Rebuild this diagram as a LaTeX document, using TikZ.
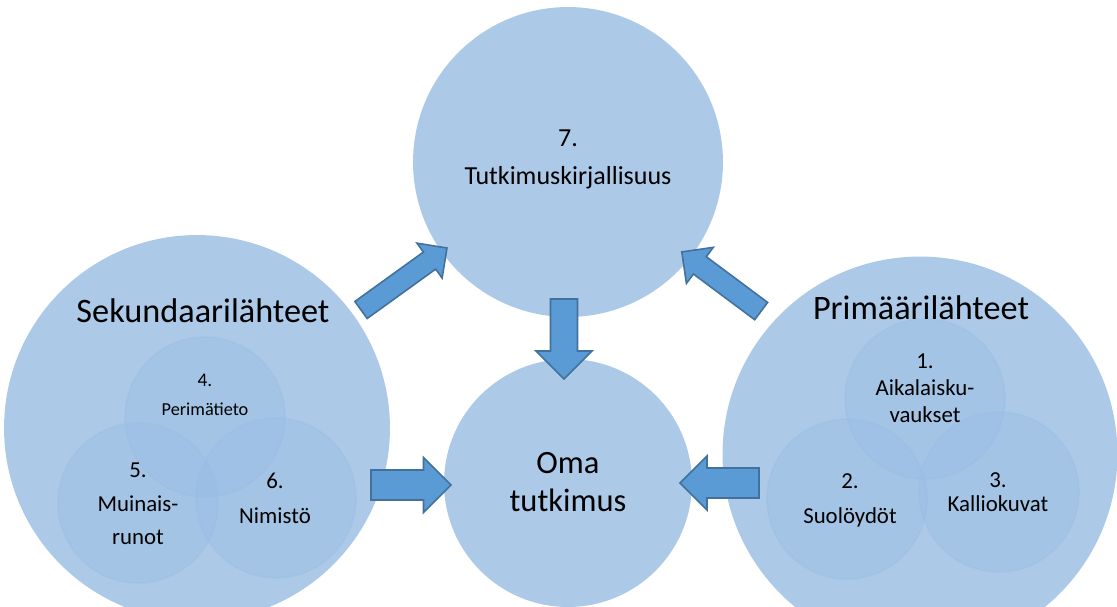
\documentclass[tikz,border=0pt]{standalone}
\usepackage{fontspec}
\setmainfont{Carlito}

\definecolor{circfill}{RGB}{173,201,232}
\definecolor{innerfill}{RGB}{150,188,228}
\definecolor{arrfill}{RGB}{91,155,213}
\definecolor{arrline}{RGB}{65,113,156}

\tikzset{
  bigcirc/.style={circle, fill=circfill, inner sep=0pt},
  smallcirc/.style={circle, inner sep=0pt, minimum size=3.2cm, fill=innerfill, fill opacity=0.35, draw=innerfill, draw opacity=0.3, line width=1pt},
  blockarrow/.style={fill=arrfill, draw=arrline, line width=0.9pt, line join=miter},
}

% block arrow: name, centre, angle, length, shaft half width, head half width
\newcommand{\blockarr}[6]{%
  \begin{scope}[shift={#2}, rotate=#3]
    \coordinate (#1) at (0,0);
    \draw[blockarrow] ({-#4/2},-#5) -- ({#4/2-#6},-#5) -- ({#4/2-#6},-#6) -- ({#4/2},0)
      -- ({#4/2-#6},#6) -- ({#4/2-#6},#5) -- ({-#4/2},#5) -- cycle;
  \end{scope}}

\begin{document}
\begin{tikzpicture}[x=0.02cm, y=-0.02cm]
  \useasboundingbox (0,0) rectangle (1117,606);
  \begin{scope}
  \clip (0,0) rectangle (1117,606);
  % Big circles
  \node[bigcirc, minimum size=6.2cm] (tutk) at (568,162) {};
  \node[bigcirc, minimum size=7.72cm] (sek) at (197,428) {};
  \node[bigcirc, minimum size=7.9cm] (prim) at (920,454) {};
  \node[bigcirc, minimum size=4.96cm] (oma) at (568,483) {};
  % Secondary sources
  \node[smallcirc] (perim) at (205,417) {};
  \node[smallcirc] (runot) at (138,503) {};
  \node[smallcirc] (nimi) at (276,498) {};
  % Primary sources
  \node[smallcirc] (aika) at (925,399) {};
  \node[smallcirc] (suo) at (847,499) {};
  \node[smallcirc] (kallio) at (999,492) {};
  \end{scope}
  % Texts
  \node[font=\fontsize{14.8}{17}\selectfont] (n7) at (568,138) {7.};
  \node[font=\fontsize{14.8}{17}\selectfont] (tutktext) at (568,178) {Tutkimuskirjallisuus};
  \node[font=\fontsize{19.5}{23}\selectfont] (sektext) at (203,311) {Sekundaarilähteet};
  \node[font=\fontsize{19.5}{23}\selectfont] (primtext) at (921,308) {Primäärilähteet};
  \node[font=\fontsize{18.5}{22}\selectfont, align=center] (omatext) at (568,482) {Oma\\tutkimus};
  \node[font=\fontsize{11}{13}\selectfont] (n4) at (205,380) {4.};
  \node[font=\fontsize{10.4}{12}\selectfont] (perimtext) at (205,409) {Perimätieto};
  \node[font=\fontsize{13}{19}\selectfont, align=center] (runottext) at (138,504) {5.\\Muinais-\\runot};
  \node[font=\fontsize{13}{20}\selectfont, align=center] (nimitext) at (275,498) {6.\\Nimistö};
  \node[font=\fontsize{13}{15.5}\selectfont, align=center] (aikatext) at (925,388) {1.\\Aikalaisku-\\vaukset};
  \node[font=\fontsize{13}{20}\selectfont, align=center] (suotext) at (850,500) {2.\\Suolöydöt};
  \node[font=\fontsize{13}{14}\selectfont, align=center] (kalliotext) at (998,492) {3.\\Kalliokuvat};
  % Arrows
  \blockarr{a1}{(404,279)}{35.8}{106}{10.5}{21.5}
  \blockarr{a2}{(721.5,281.5)}{143.3}{99}{10.8}{22.5}
  \blockarr{a3}{(564,339)}{-90}{80}{13.5}{28}
  \blockarr{a4}{(411,485)}{0}{80}{15}{27.5}
  \blockarr{a5}{(719.5,483)}{180}{79}{15}{27}
\end{tikzpicture}
\end{document}
